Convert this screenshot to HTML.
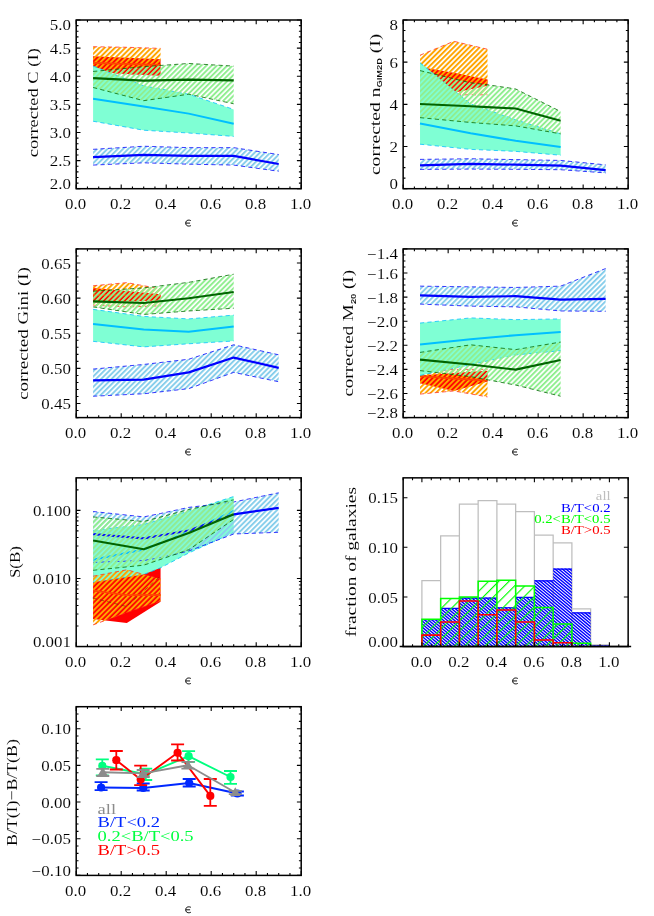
<!DOCTYPE html>
<html><head><meta charset="utf-8"><title>figure</title>
<style>
html,body{margin:0;padding:0;background:#fff;}
body{width:654px;height:916px;overflow:hidden;}
svg{display:block;font-family:"Liberation Serif",serif;will-change:transform;}
text{white-space:pre;}
</style></head>
<body>
<svg width="654" height="916" viewBox="0 0 654 916">
<defs>
<pattern id="hO" width="3.68" height="3.68" patternUnits="userSpaceOnUse" patternTransform="rotate(-45)"><rect x="0" y="0" width="3.68" height="1.95" fill="#ffa500"/></pattern>
<pattern id="hG" width="3.68" height="3.68" patternUnits="userSpaceOnUse" patternTransform="rotate(-45)"><rect x="0" y="0" width="3.68" height="1.95" fill="#90ee90"/></pattern>
<pattern id="hB" width="3.68" height="3.68" patternUnits="userSpaceOnUse" patternTransform="rotate(-45)"><rect x="0" y="0" width="3.68" height="1.95" fill="#87ceeb"/></pattern>
<pattern id="hGs" width="7.2" height="7.2" patternUnits="userSpaceOnUse" patternTransform="rotate(-45)"><rect x="0" y="0" width="7.2" height="1.15" fill="#00ff00"/></pattern>
<clipPath id="cpB"><rect x="421.9" y="619.26" width="18.75" height="27.29"/><rect x="440.65" y="607.95" width="18.75" height="38.6"/><rect x="459.4" y="597.53" width="18.75" height="49.02"/><rect x="478.15" y="597.53" width="18.75" height="49.02"/><rect x="496.9" y="607.25" width="18.75" height="39.3"/><rect x="515.65" y="596.93" width="18.75" height="49.62"/><rect x="534.4" y="580.36" width="18.75" height="66.19"/><rect x="553.15" y="568.55" width="18.75" height="78"/><rect x="571.9" y="612.41" width="18.75" height="34.14"/><rect x="590.65" y="645.56" width="18.75" height="0.99"/></clipPath>
</defs>
<rect x="0" y="0" width="654" height="916" fill="#fff"/>
<polygon points="93.08,56.21 126.83,57.68 160.57,59.36 160.57,75.67 126.83,73.98 93.08,71.73" fill="#ff0000" />
<polygon points="93.08,46.71 126.83,47.27 160.57,48.4 160.57,75.11 126.83,73.98 93.08,72.86" fill="url(#hO)" />
<polyline points="93.08,46.71 126.83,47.27 160.57,48.4" fill="none" stroke="#ff3020" stroke-width="0.77" stroke-linejoin="round" stroke-dasharray="4.2 3.2"/>
<polyline points="93.08,72.86 126.83,73.98 160.57,75.11" fill="none" stroke="#ff3020" stroke-width="0.77" stroke-linejoin="round" stroke-dasharray="4.2 3.2"/>
<polyline points="93.08,63.02 126.83,63.86 160.57,64.99" fill="none" stroke="#ff4500" stroke-width="1.9" stroke-linejoin="round" />
<polygon points="93.08,66.11 143.7,85.79 188.7,94.23 233.7,109.41 233.7,136.4 188.7,133.03 143.7,130.22 93.08,121.22" fill="#7fffd4" />
<polyline points="93.08,66.11 143.7,85.79 188.7,94.23 233.7,109.41" fill="none" stroke="#00bfff" stroke-width="0.77" stroke-linejoin="round" stroke-dasharray="4.2 3.2"/>
<polyline points="93.08,121.22 143.7,130.22 188.7,133.03 233.7,136.4" fill="none" stroke="#00bfff" stroke-width="0.77" stroke-linejoin="round" stroke-dasharray="4.2 3.2"/>
<polyline points="93.08,98.73 143.7,106.6 188.7,113.63 233.7,123.75" fill="none" stroke="#00bfff" stroke-width="2" stroke-linejoin="round" />
<polygon points="93.08,71.45 143.7,66.67 188.7,63.47 233.7,66.11 233.7,103.79 188.7,94.23 143.7,100.69 93.08,87.48" fill="url(#hG)" />
<polyline points="93.08,71.45 143.7,66.67 188.7,63.47 233.7,66.11" fill="none" stroke="#006400" stroke-width="0.77" stroke-linejoin="round" stroke-dasharray="4.2 3.2"/>
<polyline points="93.08,87.48 143.7,100.69 188.7,94.23 233.7,103.79" fill="none" stroke="#006400" stroke-width="0.77" stroke-linejoin="round" stroke-dasharray="4.2 3.2"/>
<polyline points="93.08,78.15 143.7,80.62 188.7,79.61 233.7,80.39" fill="none" stroke="#006400" stroke-width="2.1" stroke-linejoin="round" />
<polygon points="93.08,149.34 143.7,146.24 188.7,147.65 233.7,147.65 278.7,154.57 278.7,171.27 233.7,165.08 188.7,164.18 143.7,162.83 93.08,165.08" fill="url(#hB)" />
<polyline points="93.08,149.34 143.7,146.24 188.7,147.65 233.7,147.65 278.7,154.57" fill="none" stroke="#0000ff" stroke-width="0.77" stroke-linejoin="round" stroke-dasharray="4.2 3.2"/>
<polyline points="93.08,165.08 143.7,162.83 188.7,164.18 233.7,165.08 278.7,171.27" fill="none" stroke="#0000ff" stroke-width="0.77" stroke-linejoin="round" stroke-dasharray="4.2 3.2"/>
<polyline points="93.08,157.21 143.7,154.96 188.7,155.92 233.7,155.92 278.7,163.96" fill="none" stroke="#0000ff" stroke-width="2.2" stroke-linejoin="round" />
<path d="M76.2,188.7 v-4.3 M76.2,20 v4.3 M121.2,188.7 v-4.3 M121.2,20 v4.3 M166.2,188.7 v-4.3 M166.2,20 v4.3 M211.2,188.7 v-4.3 M211.2,20 v4.3 M256.2,188.7 v-4.3 M256.2,20 v4.3 M301.2,188.7 v-4.3 M301.2,20 v4.3 M87.45,188.7 v-2.3 M87.45,20 v2.3 M98.7,188.7 v-2.3 M98.7,20 v2.3 M109.95,188.7 v-2.3 M109.95,20 v2.3 M132.45,188.7 v-2.3 M132.45,20 v2.3 M143.7,188.7 v-2.3 M143.7,20 v2.3 M154.95,188.7 v-2.3 M154.95,20 v2.3 M177.45,188.7 v-2.3 M177.45,20 v2.3 M188.7,188.7 v-2.3 M188.7,20 v2.3 M199.95,188.7 v-2.3 M199.95,20 v2.3 M222.45,188.7 v-2.3 M222.45,20 v2.3 M233.7,188.7 v-2.3 M233.7,20 v2.3 M244.95,188.7 v-2.3 M244.95,20 v2.3 M267.45,188.7 v-2.3 M267.45,20 v2.3 M278.7,188.7 v-2.3 M278.7,20 v2.3 M289.95,188.7 v-2.3 M289.95,20 v2.3 M76.2,188.7 h4.3 M301.2,188.7 h-4.3 M76.2,160.58 h4.3 M301.2,160.58 h-4.3 M76.2,132.47 h4.3 M301.2,132.47 h-4.3 M76.2,104.35 h4.3 M301.2,104.35 h-4.3 M76.2,76.23 h4.3 M301.2,76.23 h-4.3 M76.2,48.12 h4.3 M301.2,48.12 h-4.3 M76.2,20 h4.3 M301.2,20 h-4.3 M76.2,183.08 h2.3 M301.2,183.08 h-2.3 M76.2,177.45 h2.3 M301.2,177.45 h-2.3 M76.2,171.83 h2.3 M301.2,171.83 h-2.3 M76.2,166.21 h2.3 M301.2,166.21 h-2.3 M76.2,154.96 h2.3 M301.2,154.96 h-2.3 M76.2,149.34 h2.3 M301.2,149.34 h-2.3 M76.2,143.71 h2.3 M301.2,143.71 h-2.3 M76.2,138.09 h2.3 M301.2,138.09 h-2.3 M76.2,126.84 h2.3 M301.2,126.84 h-2.3 M76.2,121.22 h2.3 M301.2,121.22 h-2.3 M76.2,115.6 h2.3 M301.2,115.6 h-2.3 M76.2,109.97 h2.3 M301.2,109.97 h-2.3 M76.2,98.73 h2.3 M301.2,98.73 h-2.3 M76.2,93.1 h2.3 M301.2,93.1 h-2.3 M76.2,87.48 h2.3 M301.2,87.48 h-2.3 M76.2,81.86 h2.3 M301.2,81.86 h-2.3 M76.2,70.61 h2.3 M301.2,70.61 h-2.3 M76.2,64.99 h2.3 M301.2,64.99 h-2.3 M76.2,59.36 h2.3 M301.2,59.36 h-2.3 M76.2,53.74 h2.3 M301.2,53.74 h-2.3 M76.2,42.49 h2.3 M301.2,42.49 h-2.3 M76.2,36.87 h2.3 M301.2,36.87 h-2.3 M76.2,31.25 h2.3 M301.2,31.25 h-2.3 M76.2,25.62 h2.3 M301.2,25.62 h-2.3" stroke="#000" stroke-width="1.1" fill="none"/>
<rect x="76.2" y="20" width="225" height="168.7" fill="none" stroke="#000" stroke-width="1.5"/>
<g transform="translate(75.6,208.9)" fill="#000" stroke="#fff" stroke-width="0.07"><text xml:space="preserve" transform="translate(-10.59,0) scale(1.21,1)" font-size="14">0.0</text></g>
<g transform="translate(120.6,208.9)" fill="#000" stroke="#fff" stroke-width="0.07"><text xml:space="preserve" transform="translate(-10.59,0) scale(1.21,1)" font-size="14">0.2</text></g>
<g transform="translate(165.6,208.9)" fill="#000" stroke="#fff" stroke-width="0.07"><text xml:space="preserve" transform="translate(-10.59,0) scale(1.21,1)" font-size="14">0.4</text></g>
<g transform="translate(210.6,208.9)" fill="#000" stroke="#fff" stroke-width="0.07"><text xml:space="preserve" transform="translate(-10.59,0) scale(1.21,1)" font-size="14">0.6</text></g>
<g transform="translate(255.6,208.9)" fill="#000" stroke="#fff" stroke-width="0.07"><text xml:space="preserve" transform="translate(-10.59,0) scale(1.21,1)" font-size="14">0.8</text></g>
<g transform="translate(300.6,208.9)" fill="#000" stroke="#fff" stroke-width="0.07"><text xml:space="preserve" transform="translate(-10.59,0) scale(1.21,1)" font-size="14">1.0</text></g>
<g transform="translate(71,188.9)" fill="#000" stroke="#fff" stroke-width="0.07"><text xml:space="preserve" transform="translate(-21.18,0) scale(1.21,1)" font-size="14">2.0</text></g>
<g transform="translate(71,166.18)" fill="#000" stroke="#fff" stroke-width="0.07"><text xml:space="preserve" transform="translate(-21.18,0) scale(1.21,1)" font-size="14">2.5</text></g>
<g transform="translate(71,138.07)" fill="#000" stroke="#fff" stroke-width="0.07"><text xml:space="preserve" transform="translate(-21.18,0) scale(1.21,1)" font-size="14">3.0</text></g>
<g transform="translate(71,109.95)" fill="#000" stroke="#fff" stroke-width="0.07"><text xml:space="preserve" transform="translate(-21.18,0) scale(1.21,1)" font-size="14">3.5</text></g>
<g transform="translate(71,81.83)" fill="#000" stroke="#fff" stroke-width="0.07"><text xml:space="preserve" transform="translate(-21.18,0) scale(1.21,1)" font-size="14">4.0</text></g>
<g transform="translate(71,53.72)" fill="#000" stroke="#fff" stroke-width="0.07"><text xml:space="preserve" transform="translate(-21.18,0) scale(1.21,1)" font-size="14">4.5</text></g>
<g transform="translate(71,29.8)" fill="#000" stroke="#fff" stroke-width="0.07"><text xml:space="preserve" transform="translate(-21.18,0) scale(1.21,1)" font-size="14">5.0</text></g>
<path d="M191,220.8 C189.9,219.8 185.7,219.5 185.7,223.1 C185.7,226.7 189.9,226.4 191,225.4 M185.9,223.1 L190.1,223.1" fill="none" stroke="#000" stroke-width="0.95" stroke-linecap="butt"/>
<g transform="translate(37.9,102.85) rotate(-90)" fill="#000" stroke="#fff" stroke-width="0.07"><text xml:space="preserve" transform="translate(-54.38,0) scale(1.22,1)" font-size="15.2">corrected C (I)</text></g>
<polygon points="420.02,67.03 453.77,72.72 487.52,79.47 487.52,85.79 453.77,92.75 420.02,90.64" fill="#ff0000" />
<polygon points="420.02,55.22 453.77,41.3 487.52,49.31 487.52,94.86 453.77,94.86 420.02,91.7" fill="url(#hO)" />
<polyline points="420.02,55.22 453.77,41.3 487.52,49.31" fill="none" stroke="#ff3020" stroke-width="0.77" stroke-linejoin="round" stroke-dasharray="4.2 3.2"/>
<polyline points="420.02,91.7 453.77,94.86 487.52,94.86" fill="none" stroke="#ff3020" stroke-width="0.77" stroke-linejoin="round" stroke-dasharray="4.2 3.2"/>
<polygon points="420.02,62.81 470.65,103.93 515.65,119.74 560.65,133.87 560.65,155.23 515.65,151.38 470.65,149.37 420.02,144.21" fill="#7fffd4" />
<polyline points="420.02,62.81 470.65,103.93 515.65,119.74 560.65,133.87" fill="none" stroke="#00bfff" stroke-width="0.77" stroke-linejoin="round" stroke-dasharray="4.2 3.2"/>
<polyline points="420.02,144.21 470.65,149.37 515.65,151.38 560.65,155.23" fill="none" stroke="#00bfff" stroke-width="0.77" stroke-linejoin="round" stroke-dasharray="4.2 3.2"/>
<polyline points="420.02,123.54 470.65,133.24 515.65,140.83 560.65,146.95" fill="none" stroke="#00bfff" stroke-width="2" stroke-linejoin="round" />
<polygon points="420.02,70.61 470.65,82.84 487.52,84.74 515.65,88.96 560.65,111.52 560.65,133.87 515.65,125.86 487.52,123.75 470.65,122.49 420.02,117.64" fill="url(#hG)" />
<polyline points="420.02,70.61 470.65,82.84 487.52,84.74 515.65,88.96 560.65,111.52" fill="none" stroke="#006400" stroke-width="0.77" stroke-linejoin="round" stroke-dasharray="4.2 3.2"/>
<polyline points="420.02,117.64 470.65,122.49 487.52,123.75 515.65,125.86 560.65,133.87" fill="none" stroke="#006400" stroke-width="0.77" stroke-linejoin="round" stroke-dasharray="4.2 3.2"/>
<polyline points="420.02,103.93 470.65,106.25 487.52,107.09 515.65,108.57 560.65,120.8" fill="none" stroke="#006400" stroke-width="2.1" stroke-linejoin="round" />
<polygon points="420.02,159.39 470.65,158.76 515.65,159.6 560.65,160.44 605.65,164.87 605.65,172.88 560.65,169.72 515.65,169.3 470.65,169.09 420.02,169.4" fill="url(#hB)" />
<polyline points="420.02,159.39 470.65,158.76 515.65,159.6 560.65,160.44 605.65,164.87" fill="none" stroke="#0000ff" stroke-width="0.77" stroke-linejoin="round" stroke-dasharray="4.2 3.2"/>
<polyline points="420.02,169.4 470.65,169.09 515.65,169.3 560.65,169.72 605.65,172.88" fill="none" stroke="#0000ff" stroke-width="0.77" stroke-linejoin="round" stroke-dasharray="4.2 3.2"/>
<polyline points="420.02,165.29 470.65,163.82 515.65,164.66 560.65,165.59 605.65,170.08" fill="none" stroke="#0000ff" stroke-width="2.2" stroke-linejoin="round" />
<path d="M403.15,188.7 v-4.3 M403.15,20 v4.3 M448.15,188.7 v-4.3 M448.15,20 v4.3 M493.15,188.7 v-4.3 M493.15,20 v4.3 M538.15,188.7 v-4.3 M538.15,20 v4.3 M583.15,188.7 v-4.3 M583.15,20 v4.3 M628.15,188.7 v-4.3 M628.15,20 v4.3 M414.4,188.7 v-2.3 M414.4,20 v2.3 M425.65,188.7 v-2.3 M425.65,20 v2.3 M436.9,188.7 v-2.3 M436.9,20 v2.3 M459.4,188.7 v-2.3 M459.4,20 v2.3 M470.65,188.7 v-2.3 M470.65,20 v2.3 M481.9,188.7 v-2.3 M481.9,20 v2.3 M504.4,188.7 v-2.3 M504.4,20 v2.3 M515.65,188.7 v-2.3 M515.65,20 v2.3 M526.9,188.7 v-2.3 M526.9,20 v2.3 M549.4,188.7 v-2.3 M549.4,20 v2.3 M560.65,188.7 v-2.3 M560.65,20 v2.3 M571.9,188.7 v-2.3 M571.9,20 v2.3 M594.4,188.7 v-2.3 M594.4,20 v2.3 M605.65,188.7 v-2.3 M605.65,20 v2.3 M616.9,188.7 v-2.3 M616.9,20 v2.3 M403.15,188.7 h4.3 M628.15,188.7 h-4.3 M403.15,146.52 h4.3 M628.15,146.52 h-4.3 M403.15,104.35 h4.3 M628.15,104.35 h-4.3 M403.15,62.17 h4.3 M628.15,62.17 h-4.3 M403.15,20 h4.3 M628.15,20 h-4.3 M403.15,178.16 h2.3 M628.15,178.16 h-2.3 M403.15,167.61 h2.3 M628.15,167.61 h-2.3 M403.15,157.07 h2.3 M628.15,157.07 h-2.3 M403.15,135.98 h2.3 M628.15,135.98 h-2.3 M403.15,125.44 h2.3 M628.15,125.44 h-2.3 M403.15,114.89 h2.3 M628.15,114.89 h-2.3 M403.15,93.81 h2.3 M628.15,93.81 h-2.3 M403.15,83.26 h2.3 M628.15,83.26 h-2.3 M403.15,72.72 h2.3 M628.15,72.72 h-2.3 M403.15,51.63 h2.3 M628.15,51.63 h-2.3 M403.15,41.09 h2.3 M628.15,41.09 h-2.3 M403.15,30.54 h2.3 M628.15,30.54 h-2.3" stroke="#000" stroke-width="1.1" fill="none"/>
<rect x="403.15" y="20" width="225" height="168.7" fill="none" stroke="#000" stroke-width="1.5"/>
<g transform="translate(402.55,208.9)" fill="#000" stroke="#fff" stroke-width="0.07"><text xml:space="preserve" transform="translate(-10.59,0) scale(1.21,1)" font-size="14">0.0</text></g>
<g transform="translate(447.55,208.9)" fill="#000" stroke="#fff" stroke-width="0.07"><text xml:space="preserve" transform="translate(-10.59,0) scale(1.21,1)" font-size="14">0.2</text></g>
<g transform="translate(492.55,208.9)" fill="#000" stroke="#fff" stroke-width="0.07"><text xml:space="preserve" transform="translate(-10.59,0) scale(1.21,1)" font-size="14">0.4</text></g>
<g transform="translate(537.55,208.9)" fill="#000" stroke="#fff" stroke-width="0.07"><text xml:space="preserve" transform="translate(-10.59,0) scale(1.21,1)" font-size="14">0.6</text></g>
<g transform="translate(582.55,208.9)" fill="#000" stroke="#fff" stroke-width="0.07"><text xml:space="preserve" transform="translate(-10.59,0) scale(1.21,1)" font-size="14">0.8</text></g>
<g transform="translate(627.55,208.9)" fill="#000" stroke="#fff" stroke-width="0.07"><text xml:space="preserve" transform="translate(-10.59,0) scale(1.21,1)" font-size="14">1.0</text></g>
<g transform="translate(397.95,188.9)" fill="#000" stroke="#fff" stroke-width="0.07"><text xml:space="preserve" transform="translate(-8.47,0) scale(1.21,1)" font-size="14">0</text></g>
<g transform="translate(397.95,152.12)" fill="#000" stroke="#fff" stroke-width="0.07"><text xml:space="preserve" transform="translate(-8.47,0) scale(1.21,1)" font-size="14">2</text></g>
<g transform="translate(397.95,109.95)" fill="#000" stroke="#fff" stroke-width="0.07"><text xml:space="preserve" transform="translate(-8.47,0) scale(1.21,1)" font-size="14">4</text></g>
<g transform="translate(397.95,67.77)" fill="#000" stroke="#fff" stroke-width="0.07"><text xml:space="preserve" transform="translate(-8.47,0) scale(1.21,1)" font-size="14">6</text></g>
<g transform="translate(397.95,29.8)" fill="#000" stroke="#fff" stroke-width="0.07"><text xml:space="preserve" transform="translate(-8.47,0) scale(1.21,1)" font-size="14">8</text></g>
<path d="M517.95,220.8 C516.85,219.8 512.65,219.5 512.65,223.1 C512.65,226.7 516.85,226.4 517.95,225.4 M512.85,223.1 L517.05,223.1" fill="none" stroke="#000" stroke-width="0.95" stroke-linecap="butt"/>
<g transform="translate(379.7,104.35) rotate(-90)" fill="#000" stroke="#fff" stroke-width="0.07"><text xml:space="preserve" transform="translate(-70.74,0) scale(1.29,1)" font-size="15.2">corrected n</text><text xml:space="preserve" transform="translate(16.86,2.6) scale(1.29,1)" font-size="7.2" font-family="Liberation Sans" font-weight="bold">GIM2D</text><text xml:space="preserve" transform="translate(46.26,0) scale(1.29,1)" font-size="15.2"> (I)</text></g>
<polygon points="93.08,288.12 126.83,291.08 160.57,294.31 160.57,300.42 126.83,301.62 93.08,302.53" fill="#ff0000" />
<polygon points="93.08,285.73 126.83,282.64 160.57,288.83 160.57,305.84 126.83,306.96 93.08,305.13" fill="url(#hO)" />
<polyline points="93.08,285.73 126.83,282.64 160.57,288.83" fill="none" stroke="#ff3020" stroke-width="0.77" stroke-linejoin="round" stroke-dasharray="4.2 3.2"/>
<polyline points="93.08,305.13 126.83,306.96 160.57,305.84" fill="none" stroke="#ff3020" stroke-width="0.77" stroke-linejoin="round" stroke-dasharray="4.2 3.2"/>
<polyline points="93.08,294.94 126.83,295.29 160.57,295.64" fill="none" stroke="#ff4500" stroke-width="1.9" stroke-linejoin="round" />
<polygon points="93.08,309.35 143.7,316.38 188.7,318.91 233.7,315.11 233.7,340.98 188.7,343.79 143.7,346.89 93.08,341.33" fill="#7fffd4" />
<polyline points="93.08,309.35 143.7,316.38 188.7,318.91 233.7,315.11" fill="none" stroke="#00bfff" stroke-width="0.77" stroke-linejoin="round" stroke-dasharray="4.2 3.2"/>
<polyline points="93.08,341.33 143.7,346.89 188.7,343.79 233.7,340.98" fill="none" stroke="#00bfff" stroke-width="0.77" stroke-linejoin="round" stroke-dasharray="4.2 3.2"/>
<polyline points="93.08,324.11 143.7,329.59 188.7,331.7 233.7,326.5" fill="none" stroke="#00bfff" stroke-width="2" stroke-linejoin="round" />
<polygon points="93.08,291.22 143.7,287.91 188.7,282.36 233.7,274.21 233.7,308.23 188.7,310.97 143.7,314.48 93.08,306.89" fill="url(#hG)" />
<polyline points="93.08,291.22 143.7,287.91 188.7,282.36 233.7,274.21" fill="none" stroke="#006400" stroke-width="0.77" stroke-linejoin="round" stroke-dasharray="4.2 3.2"/>
<polyline points="93.08,306.89 143.7,314.48 188.7,310.97 233.7,308.23" fill="none" stroke="#006400" stroke-width="0.77" stroke-linejoin="round" stroke-dasharray="4.2 3.2"/>
<polyline points="93.08,301.34 143.7,303.02 188.7,298.24 233.7,291.99" fill="none" stroke="#006400" stroke-width="2.1" stroke-linejoin="round" />
<polygon points="93.08,369.1 143.7,364.46 188.7,359.26 233.7,344.78 278.7,354.83 278.7,381.75 233.7,372.4 188.7,388.64 143.7,393.77 93.08,396.23" fill="url(#hB)" />
<polyline points="93.08,369.1 143.7,364.46 188.7,359.26 233.7,344.78 278.7,354.83" fill="none" stroke="#0000ff" stroke-width="0.77" stroke-linejoin="round" stroke-dasharray="4.2 3.2"/>
<polyline points="93.08,396.23 143.7,393.77 188.7,388.64 233.7,372.4 278.7,381.75" fill="none" stroke="#0000ff" stroke-width="0.77" stroke-linejoin="round" stroke-dasharray="4.2 3.2"/>
<polyline points="93.08,380.35 143.7,379.64 188.7,372.4 233.7,357.57 278.7,367.9" fill="none" stroke="#0000ff" stroke-width="2.2" stroke-linejoin="round" />
<path d="M76.2,417.6 v-4.3 M76.2,248.9 v4.3 M121.2,417.6 v-4.3 M121.2,248.9 v4.3 M166.2,417.6 v-4.3 M166.2,248.9 v4.3 M211.2,417.6 v-4.3 M211.2,248.9 v4.3 M256.2,417.6 v-4.3 M256.2,248.9 v4.3 M301.2,417.6 v-4.3 M301.2,248.9 v4.3 M87.45,417.6 v-2.3 M87.45,248.9 v2.3 M98.7,417.6 v-2.3 M98.7,248.9 v2.3 M109.95,417.6 v-2.3 M109.95,248.9 v2.3 M132.45,417.6 v-2.3 M132.45,248.9 v2.3 M143.7,417.6 v-2.3 M143.7,248.9 v2.3 M154.95,417.6 v-2.3 M154.95,248.9 v2.3 M177.45,417.6 v-2.3 M177.45,248.9 v2.3 M188.7,417.6 v-2.3 M188.7,248.9 v2.3 M199.95,417.6 v-2.3 M199.95,248.9 v2.3 M222.45,417.6 v-2.3 M222.45,248.9 v2.3 M233.7,417.6 v-2.3 M233.7,248.9 v2.3 M244.95,417.6 v-2.3 M244.95,248.9 v2.3 M267.45,417.6 v-2.3 M267.45,248.9 v2.3 M278.7,417.6 v-2.3 M278.7,248.9 v2.3 M289.95,417.6 v-2.3 M289.95,248.9 v2.3 M76.2,403.54 h4.3 M301.2,403.54 h-4.3 M76.2,368.4 h4.3 M301.2,368.4 h-4.3 M76.2,333.25 h4.3 M301.2,333.25 h-4.3 M76.2,298.1 h4.3 M301.2,298.1 h-4.3 M76.2,262.96 h4.3 M301.2,262.96 h-4.3 M76.2,417.6 h2.3 M301.2,417.6 h-2.3 M76.2,410.57 h2.3 M301.2,410.57 h-2.3 M76.2,396.51 h2.3 M301.2,396.51 h-2.3 M76.2,389.48 h2.3 M301.2,389.48 h-2.3 M76.2,382.45 h2.3 M301.2,382.45 h-2.3 M76.2,375.43 h2.3 M301.2,375.43 h-2.3 M76.2,361.37 h2.3 M301.2,361.37 h-2.3 M76.2,354.34 h2.3 M301.2,354.34 h-2.3 M76.2,347.31 h2.3 M301.2,347.31 h-2.3 M76.2,340.28 h2.3 M301.2,340.28 h-2.3 M76.2,326.22 h2.3 M301.2,326.22 h-2.3 M76.2,319.19 h2.3 M301.2,319.19 h-2.3 M76.2,312.16 h2.3 M301.2,312.16 h-2.3 M76.2,305.13 h2.3 M301.2,305.13 h-2.3 M76.2,291.08 h2.3 M301.2,291.08 h-2.3 M76.2,284.05 h2.3 M301.2,284.05 h-2.3 M76.2,277.02 h2.3 M301.2,277.02 h-2.3 M76.2,269.99 h2.3 M301.2,269.99 h-2.3 M76.2,255.93 h2.3 M301.2,255.93 h-2.3 M76.2,248.9 h2.3 M301.2,248.9 h-2.3" stroke="#000" stroke-width="1.1" fill="none"/>
<rect x="76.2" y="248.9" width="225" height="168.7" fill="none" stroke="#000" stroke-width="1.5"/>
<g transform="translate(75.6,437.8)" fill="#000" stroke="#fff" stroke-width="0.07"><text xml:space="preserve" transform="translate(-10.59,0) scale(1.21,1)" font-size="14">0.0</text></g>
<g transform="translate(120.6,437.8)" fill="#000" stroke="#fff" stroke-width="0.07"><text xml:space="preserve" transform="translate(-10.59,0) scale(1.21,1)" font-size="14">0.2</text></g>
<g transform="translate(165.6,437.8)" fill="#000" stroke="#fff" stroke-width="0.07"><text xml:space="preserve" transform="translate(-10.59,0) scale(1.21,1)" font-size="14">0.4</text></g>
<g transform="translate(210.6,437.8)" fill="#000" stroke="#fff" stroke-width="0.07"><text xml:space="preserve" transform="translate(-10.59,0) scale(1.21,1)" font-size="14">0.6</text></g>
<g transform="translate(255.6,437.8)" fill="#000" stroke="#fff" stroke-width="0.07"><text xml:space="preserve" transform="translate(-10.59,0) scale(1.21,1)" font-size="14">0.8</text></g>
<g transform="translate(300.6,437.8)" fill="#000" stroke="#fff" stroke-width="0.07"><text xml:space="preserve" transform="translate(-10.59,0) scale(1.21,1)" font-size="14">1.0</text></g>
<g transform="translate(71,409.14)" fill="#000" stroke="#fff" stroke-width="0.07"><text xml:space="preserve" transform="translate(-29.64,0) scale(1.21,1)" font-size="14">0.45</text></g>
<g transform="translate(71,374)" fill="#000" stroke="#fff" stroke-width="0.07"><text xml:space="preserve" transform="translate(-29.64,0) scale(1.21,1)" font-size="14">0.50</text></g>
<g transform="translate(71,338.85)" fill="#000" stroke="#fff" stroke-width="0.07"><text xml:space="preserve" transform="translate(-29.64,0) scale(1.21,1)" font-size="14">0.55</text></g>
<g transform="translate(71,303.7)" fill="#000" stroke="#fff" stroke-width="0.07"><text xml:space="preserve" transform="translate(-29.64,0) scale(1.21,1)" font-size="14">0.60</text></g>
<g transform="translate(71,268.56)" fill="#000" stroke="#fff" stroke-width="0.07"><text xml:space="preserve" transform="translate(-29.64,0) scale(1.21,1)" font-size="14">0.65</text></g>
<path d="M191,449.7 C189.9,448.7 185.7,448.4 185.7,452 C185.7,455.6 189.9,455.3 191,454.3 M185.9,452 L190.1,452" fill="none" stroke="#000" stroke-width="0.95" stroke-linecap="butt"/>
<g transform="translate(28.2,333.25) rotate(-90)" fill="#000" stroke="#fff" stroke-width="0.07"><text xml:space="preserve" transform="translate(-66.6,0) scale(1.25,1)" font-size="15.2">corrected Gini (I)</text></g>
<polygon points="420.02,375.55 453.77,373.02 487.52,370.73 487.52,381.45 453.77,390.97 420.02,383.14" fill="#ff0000" />
<polygon points="420.02,371.81 453.77,369.4 487.52,369.4 487.52,396.87 453.77,390.97 420.02,394.1" fill="url(#hO)" />
<polyline points="420.02,371.81 453.77,369.4 487.52,369.4" fill="none" stroke="#ff3020" stroke-width="0.77" stroke-linejoin="round" stroke-dasharray="4.2 3.2"/>
<polyline points="420.02,394.1 453.77,390.97 487.52,396.87" fill="none" stroke="#ff3020" stroke-width="0.77" stroke-linejoin="round" stroke-dasharray="4.2 3.2"/>
<polyline points="420.02,376.15 453.77,378.44 487.52,380.61" fill="none" stroke="#ff4500" stroke-width="1.9" stroke-linejoin="round" />
<polygon points="420.02,323.07 470.65,317.9 515.65,319.63 560.65,318.91 560.65,350.72 515.65,354.94 470.65,364.58 420.02,375.43" fill="#7fffd4" />
<polyline points="420.02,323.07 470.65,317.9 515.65,319.63 560.65,318.91" fill="none" stroke="#00bfff" stroke-width="0.77" stroke-linejoin="round" stroke-dasharray="4.2 3.2"/>
<polyline points="420.02,375.43 470.65,364.58 515.65,354.94 560.65,350.72" fill="none" stroke="#00bfff" stroke-width="0.77" stroke-linejoin="round" stroke-dasharray="4.2 3.2"/>
<polyline points="420.02,344.46 470.65,339.28 515.65,335.18 560.65,332.05" fill="none" stroke="#00bfff" stroke-width="2" stroke-linejoin="round" />
<polygon points="420.02,352.41 470.65,344.82 515.65,349.64 560.65,342.05 560.65,396.21 515.65,385.06 470.65,376.63 420.02,370.61" fill="url(#hG)" />
<polyline points="420.02,352.41 470.65,344.82 515.65,349.64 560.65,342.05" fill="none" stroke="#006400" stroke-width="0.77" stroke-linejoin="round" stroke-dasharray="4.2 3.2"/>
<polyline points="420.02,370.61 470.65,376.63 515.65,385.06 560.65,396.21" fill="none" stroke="#006400" stroke-width="0.77" stroke-linejoin="round" stroke-dasharray="4.2 3.2"/>
<polyline points="420.02,359.64 470.65,364.46 515.65,369.64 560.65,360" fill="none" stroke="#006400" stroke-width="2.1" stroke-linejoin="round" />
<polygon points="420.02,286.13 470.65,286.86 515.65,287.46 560.65,286.13 605.65,268.54 605.65,311.32 560.65,310.96 515.65,306.86 470.65,306.14 420.02,304.09" fill="url(#hB)" />
<polyline points="420.02,286.13 470.65,286.86 515.65,287.46 560.65,286.13 605.65,268.54" fill="none" stroke="#0000ff" stroke-width="0.77" stroke-linejoin="round" stroke-dasharray="4.2 3.2"/>
<polyline points="420.02,304.09 470.65,306.14 515.65,306.86 560.65,310.96 605.65,311.32" fill="none" stroke="#0000ff" stroke-width="0.77" stroke-linejoin="round" stroke-dasharray="4.2 3.2"/>
<polyline points="420.02,295.47 470.65,296.86 515.65,296.14 560.65,299.63 605.65,298.91" fill="none" stroke="#0000ff" stroke-width="2.2" stroke-linejoin="round" />
<path d="M403.15,417.6 v-4.3 M403.15,248.9 v4.3 M448.15,417.6 v-4.3 M448.15,248.9 v4.3 M493.15,417.6 v-4.3 M493.15,248.9 v4.3 M538.15,417.6 v-4.3 M538.15,248.9 v4.3 M583.15,417.6 v-4.3 M583.15,248.9 v4.3 M628.15,417.6 v-4.3 M628.15,248.9 v4.3 M414.4,417.6 v-2.3 M414.4,248.9 v2.3 M425.65,417.6 v-2.3 M425.65,248.9 v2.3 M436.9,417.6 v-2.3 M436.9,248.9 v2.3 M459.4,417.6 v-2.3 M459.4,248.9 v2.3 M470.65,417.6 v-2.3 M470.65,248.9 v2.3 M481.9,417.6 v-2.3 M481.9,248.9 v2.3 M504.4,417.6 v-2.3 M504.4,248.9 v2.3 M515.65,417.6 v-2.3 M515.65,248.9 v2.3 M526.9,417.6 v-2.3 M526.9,248.9 v2.3 M549.4,417.6 v-2.3 M549.4,248.9 v2.3 M560.65,417.6 v-2.3 M560.65,248.9 v2.3 M571.9,417.6 v-2.3 M571.9,248.9 v2.3 M594.4,417.6 v-2.3 M594.4,248.9 v2.3 M605.65,417.6 v-2.3 M605.65,248.9 v2.3 M616.9,417.6 v-2.3 M616.9,248.9 v2.3 M403.15,417.6 h4.3 M628.15,417.6 h-4.3 M403.15,393.5 h4.3 M628.15,393.5 h-4.3 M403.15,369.4 h4.3 M628.15,369.4 h-4.3 M403.15,345.3 h4.3 M628.15,345.3 h-4.3 M403.15,321.2 h4.3 M628.15,321.2 h-4.3 M403.15,297.1 h4.3 M628.15,297.1 h-4.3 M403.15,273 h4.3 M628.15,273 h-4.3 M403.15,248.9 h4.3 M628.15,248.9 h-4.3 M403.15,411.58 h2.3 M628.15,411.58 h-2.3 M403.15,405.55 h2.3 M628.15,405.55 h-2.3 M403.15,399.53 h2.3 M628.15,399.53 h-2.3 M403.15,387.48 h2.3 M628.15,387.48 h-2.3 M403.15,381.45 h2.3 M628.15,381.45 h-2.3 M403.15,375.43 h2.3 M628.15,375.43 h-2.3 M403.15,363.38 h2.3 M628.15,363.38 h-2.3 M403.15,357.35 h2.3 M628.15,357.35 h-2.3 M403.15,351.33 h2.3 M628.15,351.33 h-2.3 M403.15,339.28 h2.3 M628.15,339.28 h-2.3 M403.15,333.25 h2.3 M628.15,333.25 h-2.3 M403.15,327.23 h2.3 M628.15,327.23 h-2.3 M403.15,315.18 h2.3 M628.15,315.18 h-2.3 M403.15,309.15 h2.3 M628.15,309.15 h-2.3 M403.15,303.12 h2.3 M628.15,303.12 h-2.3 M403.15,291.08 h2.3 M628.15,291.08 h-2.3 M403.15,285.05 h2.3 M628.15,285.05 h-2.3 M403.15,279.02 h2.3 M628.15,279.02 h-2.3 M403.15,266.98 h2.3 M628.15,266.98 h-2.3 M403.15,260.95 h2.3 M628.15,260.95 h-2.3 M403.15,254.93 h2.3 M628.15,254.93 h-2.3" stroke="#000" stroke-width="1.1" fill="none"/>
<rect x="403.15" y="248.9" width="225" height="168.7" fill="none" stroke="#000" stroke-width="1.5"/>
<g transform="translate(402.55,437.8)" fill="#000" stroke="#fff" stroke-width="0.07"><text xml:space="preserve" transform="translate(-10.59,0) scale(1.21,1)" font-size="14">0.0</text></g>
<g transform="translate(447.55,437.8)" fill="#000" stroke="#fff" stroke-width="0.07"><text xml:space="preserve" transform="translate(-10.59,0) scale(1.21,1)" font-size="14">0.2</text></g>
<g transform="translate(492.55,437.8)" fill="#000" stroke="#fff" stroke-width="0.07"><text xml:space="preserve" transform="translate(-10.59,0) scale(1.21,1)" font-size="14">0.4</text></g>
<g transform="translate(537.55,437.8)" fill="#000" stroke="#fff" stroke-width="0.07"><text xml:space="preserve" transform="translate(-10.59,0) scale(1.21,1)" font-size="14">0.6</text></g>
<g transform="translate(582.55,437.8)" fill="#000" stroke="#fff" stroke-width="0.07"><text xml:space="preserve" transform="translate(-10.59,0) scale(1.21,1)" font-size="14">0.8</text></g>
<g transform="translate(627.55,437.8)" fill="#000" stroke="#fff" stroke-width="0.07"><text xml:space="preserve" transform="translate(-10.59,0) scale(1.21,1)" font-size="14">1.0</text></g>
<g transform="translate(397.95,417.8)" fill="#000" stroke="#fff" stroke-width="0.07"><text xml:space="preserve" transform="translate(-30.73,0) scale(1.21,1)" font-size="14">−2.8</text></g>
<g transform="translate(397.95,399.1)" fill="#000" stroke="#fff" stroke-width="0.07"><text xml:space="preserve" transform="translate(-30.73,0) scale(1.21,1)" font-size="14">−2.6</text></g>
<g transform="translate(397.95,375)" fill="#000" stroke="#fff" stroke-width="0.07"><text xml:space="preserve" transform="translate(-30.73,0) scale(1.21,1)" font-size="14">−2.4</text></g>
<g transform="translate(397.95,350.9)" fill="#000" stroke="#fff" stroke-width="0.07"><text xml:space="preserve" transform="translate(-30.73,0) scale(1.21,1)" font-size="14">−2.2</text></g>
<g transform="translate(397.95,326.8)" fill="#000" stroke="#fff" stroke-width="0.07"><text xml:space="preserve" transform="translate(-30.73,0) scale(1.21,1)" font-size="14">−2.0</text></g>
<g transform="translate(397.95,302.7)" fill="#000" stroke="#fff" stroke-width="0.07"><text xml:space="preserve" transform="translate(-30.73,0) scale(1.21,1)" font-size="14">−1.8</text></g>
<g transform="translate(397.95,278.6)" fill="#000" stroke="#fff" stroke-width="0.07"><text xml:space="preserve" transform="translate(-30.73,0) scale(1.21,1)" font-size="14">−1.6</text></g>
<g transform="translate(397.95,258.7)" fill="#000" stroke="#fff" stroke-width="0.07"><text xml:space="preserve" transform="translate(-30.73,0) scale(1.21,1)" font-size="14">−1.4</text></g>
<path d="M517.95,449.7 C516.85,448.7 512.65,448.4 512.65,452 C512.65,455.6 516.85,455.3 517.95,454.3 M512.85,452 L517.05,452" fill="none" stroke="#000" stroke-width="0.95" stroke-linecap="butt"/>
<g transform="translate(353.1,333.25) rotate(-90)" fill="#000" stroke="#fff" stroke-width="0.07"><text xml:space="preserve" transform="translate(-63.3,0) scale(1.25,1)" font-size="15.2">corrected M</text><text xml:space="preserve" transform="translate(29.21,2.8) scale(1.25,1)" font-size="7.4" font-family="Liberation Sans" font-weight="bold">20</text><text xml:space="preserve" transform="translate(39.52,0) scale(1.25,1)" font-size="15.2"> (I)</text></g>
<polygon points="93.08,572 126.83,568 160.57,565 160.57,601.7 126.83,623 93.08,619" fill="#ff0000" />
<polygon points="93.08,530.4 143.7,524.5 160.57,519.5 188.7,511 233.7,496.5 233.7,532.5 188.7,553 160.57,567.8 143.7,574.5 93.08,582.3" fill="#7fffd4" />
<polyline points="93.08,582.3 143.7,574.5 160.57,567.8 188.7,553 233.7,532.5" fill="none" stroke="#00bfff" stroke-width="0.77" stroke-linejoin="round" stroke-dasharray="4.2 3.2"/>
<polyline points="93.08,530.4 143.7,524.5 160.57,519.5 188.7,511 233.7,496.5" fill="none" stroke="#00bfff" stroke-width="0.77" stroke-linejoin="round" stroke-dasharray="4.2 3.2"/>
<polyline points="93.08,559.8 143.7,549.5 188.7,532 233.7,511" fill="none" stroke="#00bfff" stroke-width="2" stroke-linejoin="round" />
<polygon points="93.08,576.2 126.83,569.8 160.57,579 160.57,601 126.83,612.5 93.08,624.9" fill="url(#hO)" />
<polyline points="93.08,576.2 126.83,569.8 160.57,579" fill="none" stroke="#ff3020" stroke-width="0.77" stroke-linejoin="round" stroke-dasharray="4.2 3.2"/>
<polyline points="93.08,624.9 126.83,612.5 160.57,601" fill="none" stroke="#ff3020" stroke-width="0.77" stroke-linejoin="round" stroke-dasharray="4.2 3.2"/>
<polyline points="92.7,598 126.4,606.4 160.3,576.2" fill="none" stroke="#7a1e00" stroke-width="0.59" stroke-linejoin="round" stroke-dasharray="4.2 3.2"/>
<polyline points="93.08,590.6 126.83,595.2 160.57,595" fill="none" stroke="#ff4500" stroke-width="1.8" stroke-linejoin="round" />
<polygon points="93.08,511.5 143.7,516.9 160.57,513.5 188.7,507.4 233.7,502 278.7,492.8 278.7,532.3 233.7,534 188.7,551 160.57,557.7 143.7,560.5 93.08,562.4" fill="url(#hB)" />
<polyline points="93.08,511.5 143.7,516.9 160.57,513.5 188.7,507.4 233.7,502 278.7,492.8" fill="none" stroke="#0000ff" stroke-width="0.77" stroke-linejoin="round" stroke-dasharray="4.2 3.2"/>
<polyline points="93.08,562.4 143.7,560.5 160.57,557.7 188.7,551 233.7,534 278.7,532.3" fill="none" stroke="#0000ff" stroke-width="0.77" stroke-linejoin="round" stroke-dasharray="4.2 3.2"/>
<polyline points="93.08,534.1 143.7,538.4 188.7,530.5 233.7,514.3 278.7,507.9" fill="none" stroke="#0000ff" stroke-width="2.2" stroke-linejoin="round" />
<polygon points="93.08,516.9 143.7,521.5 188.7,509.5 233.7,499.8 233.7,519.4 188.7,549.7 143.7,565.2 93.08,570.3" fill="url(#hG)" />
<polyline points="93.08,516.9 143.7,521.5 188.7,509.5 233.7,499.8" fill="none" stroke="#006400" stroke-width="0.77" stroke-linejoin="round" stroke-dasharray="4.2 3.2"/>
<polyline points="93.08,570.3 143.7,565.2 188.7,549.7 233.7,519.4" fill="none" stroke="#006400" stroke-width="0.77" stroke-linejoin="round" stroke-dasharray="4.2 3.2"/>
<polyline points="93.08,540.5 143.7,549.2 188.7,533 233.7,514.3" fill="none" stroke="#006400" stroke-width="2.1" stroke-linejoin="round" />
<path d="M76.2,646.55 v-4.3 M76.2,477.85 v4.3 M121.2,646.55 v-4.3 M121.2,477.85 v4.3 M166.2,646.55 v-4.3 M166.2,477.85 v4.3 M211.2,646.55 v-4.3 M211.2,477.85 v4.3 M256.2,646.55 v-4.3 M256.2,477.85 v4.3 M301.2,646.55 v-4.3 M301.2,477.85 v4.3 M87.45,646.55 v-2.3 M87.45,477.85 v2.3 M98.7,646.55 v-2.3 M98.7,477.85 v2.3 M109.95,646.55 v-2.3 M109.95,477.85 v2.3 M132.45,646.55 v-2.3 M132.45,477.85 v2.3 M143.7,646.55 v-2.3 M143.7,477.85 v2.3 M154.95,646.55 v-2.3 M154.95,477.85 v2.3 M177.45,646.55 v-2.3 M177.45,477.85 v2.3 M188.7,646.55 v-2.3 M188.7,477.85 v2.3 M199.95,646.55 v-2.3 M199.95,477.85 v2.3 M222.45,646.55 v-2.3 M222.45,477.85 v2.3 M233.7,646.55 v-2.3 M233.7,477.85 v2.3 M244.95,646.55 v-2.3 M244.95,477.85 v2.3 M267.45,646.55 v-2.3 M267.45,477.85 v2.3 M278.7,646.55 v-2.3 M278.7,477.85 v2.3 M289.95,646.55 v-2.3 M289.95,477.85 v2.3 M76.2,646.55 h4.3 M301.2,646.55 h-4.3 M76.2,578.45 h4.3 M301.2,578.45 h-4.3 M76.2,510.34 h4.3 M301.2,510.34 h-4.3 M76.2,626.05 h2.3 M301.2,626.05 h-2.3 M76.2,614.06 h2.3 M301.2,614.06 h-2.3 M76.2,605.55 h2.3 M301.2,605.55 h-2.3 M76.2,598.95 h2.3 M301.2,598.95 h-2.3 M76.2,593.56 h2.3 M301.2,593.56 h-2.3 M76.2,589 h2.3 M301.2,589 h-2.3 M76.2,585.05 h2.3 M301.2,585.05 h-2.3 M76.2,581.56 h2.3 M301.2,581.56 h-2.3 M76.2,557.95 h2.3 M301.2,557.95 h-2.3 M76.2,545.95 h2.3 M301.2,545.95 h-2.3 M76.2,537.44 h2.3 M301.2,537.44 h-2.3 M76.2,530.84 h2.3 M301.2,530.84 h-2.3 M76.2,525.45 h2.3 M301.2,525.45 h-2.3 M76.2,520.89 h2.3 M301.2,520.89 h-2.3 M76.2,516.94 h2.3 M301.2,516.94 h-2.3 M76.2,513.46 h2.3 M301.2,513.46 h-2.3 M76.2,489.84 h2.3 M301.2,489.84 h-2.3" stroke="#000" stroke-width="1.1" fill="none"/>
<rect x="76.2" y="477.85" width="225" height="168.7" fill="none" stroke="#000" stroke-width="1.5"/>
<g transform="translate(75.6,666.75)" fill="#000" stroke="#fff" stroke-width="0.07"><text xml:space="preserve" transform="translate(-10.59,0) scale(1.21,1)" font-size="14">0.0</text></g>
<g transform="translate(120.6,666.75)" fill="#000" stroke="#fff" stroke-width="0.07"><text xml:space="preserve" transform="translate(-10.59,0) scale(1.21,1)" font-size="14">0.2</text></g>
<g transform="translate(165.6,666.75)" fill="#000" stroke="#fff" stroke-width="0.07"><text xml:space="preserve" transform="translate(-10.59,0) scale(1.21,1)" font-size="14">0.4</text></g>
<g transform="translate(210.6,666.75)" fill="#000" stroke="#fff" stroke-width="0.07"><text xml:space="preserve" transform="translate(-10.59,0) scale(1.21,1)" font-size="14">0.6</text></g>
<g transform="translate(255.6,666.75)" fill="#000" stroke="#fff" stroke-width="0.07"><text xml:space="preserve" transform="translate(-10.59,0) scale(1.21,1)" font-size="14">0.8</text></g>
<g transform="translate(300.6,666.75)" fill="#000" stroke="#fff" stroke-width="0.07"><text xml:space="preserve" transform="translate(-10.59,0) scale(1.21,1)" font-size="14">1.0</text></g>
<g transform="translate(71,646.75)" fill="#000" stroke="#fff" stroke-width="0.07"><text xml:space="preserve" transform="translate(-38.12,0) scale(1.21,1)" font-size="14">0.001</text></g>
<g transform="translate(71,584.05)" fill="#000" stroke="#fff" stroke-width="0.07"><text xml:space="preserve" transform="translate(-38.12,0) scale(1.21,1)" font-size="14">0.010</text></g>
<g transform="translate(71,515.94)" fill="#000" stroke="#fff" stroke-width="0.07"><text xml:space="preserve" transform="translate(-38.12,0) scale(1.21,1)" font-size="14">0.100</text></g>
<path d="M191,678.65 C189.9,677.65 185.7,677.35 185.7,680.95 C185.7,684.55 189.9,684.25 191,683.25 M185.9,680.95 L190.1,680.95" fill="none" stroke="#000" stroke-width="0.95" stroke-linecap="butt"/>
<g transform="translate(20,562.2) rotate(-90)" fill="#000" stroke="#fff" stroke-width="0.07"><text xml:space="preserve" transform="translate(-15.87,0) scale(1.11,1)" font-size="15.2">S(B)</text></g>
<path d="M421.9,646.55 V580.66 H440.65 V646.55 M440.65,646.55 V535.8 H459.4 V646.55 M459.4,646.55 V504.05 H478.15 V646.55 M478.15,646.55 V500.67 H496.9 V646.55 M496.9,646.55 V504.05 H515.65 V646.55 M515.65,646.55 V511.59 H534.4 V646.55 M534.4,646.55 V535.11 H553.15 V646.55 M553.15,646.55 V542.75 H571.9 V646.55 M571.9,646.55 V608.94 H590.65 V646.55 M590.65,646.55 V644.86 H609.4 V646.55" fill="none" stroke="#bebebe" stroke-width="1.25" stroke-linejoin="miter"/>
<path d="M421.9,401.32 L609.4,559.2 M421.9,404.41 L609.4,562.29 M421.9,407.5 L609.4,565.38 M421.9,410.59 L609.4,568.47 M421.9,413.68 L609.4,571.56 M421.9,416.77 L609.4,574.65 M421.9,419.86 L609.4,577.74 M421.9,422.95 L609.4,580.83 M421.9,426.04 L609.4,583.92 M421.9,429.13 L609.4,587.01 M421.9,432.22 L609.4,590.1 M421.9,435.31 L609.4,593.19 M421.9,438.4 L609.4,596.28 M421.9,441.49 L609.4,599.37 M421.9,444.58 L609.4,602.46 M421.9,447.67 L609.4,605.55 M421.9,450.76 L609.4,608.64 M421.9,453.85 L609.4,611.73 M421.9,456.94 L609.4,614.82 M421.9,460.03 L609.4,617.91 M421.9,463.12 L609.4,621 M421.9,466.21 L609.4,624.09 M421.9,469.3 L609.4,627.18 M421.9,472.39 L609.4,630.27 M421.9,475.48 L609.4,633.36 M421.9,478.57 L609.4,636.45 M421.9,481.66 L609.4,639.54 M421.9,484.75 L609.4,642.63 M421.9,487.84 L609.4,645.72 M421.9,490.93 L609.4,648.81 M421.9,494.02 L609.4,651.9 M421.9,497.11 L609.4,654.99 M421.9,500.2 L609.4,658.08 M421.9,503.29 L609.4,661.17 M421.9,506.38 L609.4,664.26 M421.9,509.47 L609.4,667.35 M421.9,512.56 L609.4,670.44 M421.9,515.65 L609.4,673.53 M421.9,518.74 L609.4,676.62 M421.9,521.83 L609.4,679.71 M421.9,524.92 L609.4,682.8 M421.9,528.01 L609.4,685.89 M421.9,531.1 L609.4,688.98 M421.9,534.19 L609.4,692.07 M421.9,537.28 L609.4,695.16 M421.9,540.37 L609.4,698.25 M421.9,543.46 L609.4,701.34 M421.9,546.55 L609.4,704.43 M421.9,549.64 L609.4,707.52 M421.9,552.73 L609.4,710.61 M421.9,555.82 L609.4,713.7 M421.9,558.91 L609.4,716.79 M421.9,562 L609.4,719.88 M421.9,565.09 L609.4,722.97 M421.9,568.18 L609.4,726.06 M421.9,571.27 L609.4,729.15 M421.9,574.36 L609.4,732.24 M421.9,577.45 L609.4,735.33 M421.9,580.54 L609.4,738.42 M421.9,583.63 L609.4,741.51 M421.9,586.72 L609.4,744.6 M421.9,589.81 L609.4,747.69 M421.9,592.9 L609.4,750.78 M421.9,595.99 L609.4,753.87 M421.9,599.08 L609.4,756.96 M421.9,602.17 L609.4,760.05 M421.9,605.26 L609.4,763.14 M421.9,608.36 L609.4,766.23 M421.9,611.45 L609.4,769.32 M421.9,614.54 L609.4,772.41 M421.9,617.63 L609.4,775.5 M421.9,620.72 L609.4,778.59 M421.9,623.81 L609.4,781.68 M421.9,626.9 L609.4,784.77 M421.9,629.99 L609.4,787.86 M421.9,633.08 L609.4,790.95 M421.9,636.17 L609.4,794.04 M421.9,639.26 L609.4,797.13 M421.9,642.35 L609.4,800.22 M421.9,645.44 L609.4,803.31 M421.9,648.53 L609.4,806.4" stroke="#0000ff" stroke-width="1.42" fill="none" clip-path="url(#cpB)"/>
<path d="M421.9,619.76 H440.65 M440.65,608.45 H459.4 M459.4,598.03 H478.15 M478.15,598.03 H496.9 M496.9,607.75 H515.65 M515.65,597.43 H534.4 M534.4,580.86 H553.15 M553.15,569.05 H571.9 M571.9,612.91 H590.65 M590.65,646.06 H609.4" stroke="#0000ff" stroke-width="1.2" fill="none"/>
<path d="M421.9,646.55 V619.26 H440.65 V646.55 M440.65,646.55 V598.62 H459.4 V646.55 M459.4,646.55 V596.93 H478.15 V646.55 M478.15,646.55 V581.25 H496.9 V646.55 M496.9,646.55 V580.16 H515.65 V646.55 M515.65,646.55 V586.12 H534.4 V646.55 M534.4,646.55 V607.55 H553.15 V646.55 M553.15,646.55 V624.12 H571.9 V646.55 M571.9,646.55 V643.37 H590.65 V646.55" fill="url(#hGs)" stroke="none" stroke-width="0" stroke-linejoin="miter"/>
<path d="M421.9,646.55 V619.26 H440.65 V646.55 M440.65,646.55 V598.62 H459.4 V646.55 M459.4,646.55 V596.93 H478.15 V646.55 M478.15,646.55 V581.25 H496.9 V646.55 M496.9,646.55 V580.16 H515.65 V646.55 M515.65,646.55 V586.12 H534.4 V646.55 M534.4,646.55 V607.55 H553.15 V646.55 M553.15,646.55 V624.12 H571.9 V646.55 M571.9,646.55 V643.37 H590.65 V646.55" fill="none" stroke="#00ff00" stroke-width="1.5" stroke-linejoin="miter"/>
<path d="M421.9,646.55 V635.14 H440.65 V646.55 M440.65,646.55 V622.04 H459.4 V646.55 M459.4,646.55 V601 H478.15 V646.55 M478.15,646.55 V614.79 H496.9 V646.55 M496.9,646.55 V609.93 H515.65 V646.55 M515.65,646.55 V622.04 H534.4 V646.55 M534.4,646.55 V640 H553.15 V646.55 M553.15,646.55 V642.78 H571.9 V646.55" fill="none" stroke="#ff0000" stroke-width="1.55" stroke-linejoin="miter"/>
<g transform="translate(610.6,499.8)" fill="#bebebe"><text xml:space="preserve" transform="translate(-14.73,0) scale(1.26,1)" font-size="11.7">all</text></g>
<g transform="translate(610.6,511.5)" fill="#0000ff"><text xml:space="preserve" transform="translate(-49.68,0) scale(1.26,1)" font-size="11.7">B/T&lt;0.2</text></g>
<g transform="translate(610.6,522.6)" fill="#00ff00"><text xml:space="preserve" transform="translate(-76.42,0) scale(1.26,1)" font-size="11.7">0.2&lt;B/T&lt;0.5</text></g>
<g transform="translate(610.6,533.8)" fill="#ff0000"><text xml:space="preserve" transform="translate(-49.68,0) scale(1.26,1)" font-size="11.7">B/T&gt;0.5</text></g>
<path d="M421.9,646.55 v-4.3 M421.9,477.85 v4.3 M459.4,646.55 v-4.3 M459.4,477.85 v4.3 M496.9,646.55 v-4.3 M496.9,477.85 v4.3 M534.4,646.55 v-4.3 M534.4,477.85 v4.3 M571.9,646.55 v-4.3 M571.9,477.85 v4.3 M609.4,646.55 v-4.3 M609.4,477.85 v4.3 M403.15,646.55 v-2.3 M403.15,477.85 v2.3 M412.52,646.55 v-2.3 M412.52,477.85 v2.3 M431.27,646.55 v-2.3 M431.27,477.85 v2.3 M440.65,646.55 v-2.3 M440.65,477.85 v2.3 M450.02,646.55 v-2.3 M450.02,477.85 v2.3 M468.77,646.55 v-2.3 M468.77,477.85 v2.3 M478.15,646.55 v-2.3 M478.15,477.85 v2.3 M487.52,646.55 v-2.3 M487.52,477.85 v2.3 M506.27,646.55 v-2.3 M506.27,477.85 v2.3 M515.65,646.55 v-2.3 M515.65,477.85 v2.3 M525.02,646.55 v-2.3 M525.02,477.85 v2.3 M543.77,646.55 v-2.3 M543.77,477.85 v2.3 M553.15,646.55 v-2.3 M553.15,477.85 v2.3 M562.52,646.55 v-2.3 M562.52,477.85 v2.3 M581.27,646.55 v-2.3 M581.27,477.85 v2.3 M590.65,646.55 v-2.3 M590.65,477.85 v2.3 M600.02,646.55 v-2.3 M600.02,477.85 v2.3 M618.77,646.55 v-2.3 M618.77,477.85 v2.3 M628.15,646.55 v-2.3 M628.15,477.85 v2.3 M403.15,646.55 h4.3 M628.15,646.55 h-4.3 M403.15,596.93 h4.3 M628.15,596.93 h-4.3 M403.15,547.31 h4.3 M628.15,547.31 h-4.3 M403.15,497.7 h4.3 M628.15,497.7 h-4.3" stroke="#000" stroke-width="1.1" fill="none"/>
<rect x="403.15" y="477.85" width="225" height="168.7" fill="none" stroke="#000" stroke-width="1.5"/>
<path d="M399.65,646.55 H631.15" stroke="#000" stroke-width="1.5"/>
<g transform="translate(421.3,666.75)" fill="#000" stroke="#fff" stroke-width="0.07"><text xml:space="preserve" transform="translate(-10.59,0) scale(1.21,1)" font-size="14">0.0</text></g>
<g transform="translate(458.8,666.75)" fill="#000" stroke="#fff" stroke-width="0.07"><text xml:space="preserve" transform="translate(-10.59,0) scale(1.21,1)" font-size="14">0.2</text></g>
<g transform="translate(496.3,666.75)" fill="#000" stroke="#fff" stroke-width="0.07"><text xml:space="preserve" transform="translate(-10.59,0) scale(1.21,1)" font-size="14">0.4</text></g>
<g transform="translate(533.8,666.75)" fill="#000" stroke="#fff" stroke-width="0.07"><text xml:space="preserve" transform="translate(-10.59,0) scale(1.21,1)" font-size="14">0.6</text></g>
<g transform="translate(571.3,666.75)" fill="#000" stroke="#fff" stroke-width="0.07"><text xml:space="preserve" transform="translate(-10.59,0) scale(1.21,1)" font-size="14">0.8</text></g>
<g transform="translate(608.8,666.75)" fill="#000" stroke="#fff" stroke-width="0.07"><text xml:space="preserve" transform="translate(-10.59,0) scale(1.21,1)" font-size="14">1.0</text></g>
<g transform="translate(397.95,646.75)" fill="#000" stroke="#fff" stroke-width="0.07"><text xml:space="preserve" transform="translate(-29.64,0) scale(1.21,1)" font-size="14">0.00</text></g>
<g transform="translate(397.95,602.53)" fill="#000" stroke="#fff" stroke-width="0.07"><text xml:space="preserve" transform="translate(-29.64,0) scale(1.21,1)" font-size="14">0.05</text></g>
<g transform="translate(397.95,552.91)" fill="#000" stroke="#fff" stroke-width="0.07"><text xml:space="preserve" transform="translate(-29.64,0) scale(1.21,1)" font-size="14">0.10</text></g>
<g transform="translate(397.95,503.3)" fill="#000" stroke="#fff" stroke-width="0.07"><text xml:space="preserve" transform="translate(-29.64,0) scale(1.21,1)" font-size="14">0.15</text></g>
<path d="M517.95,678.65 C516.85,677.65 512.65,677.35 512.65,680.95 C512.65,684.55 516.85,684.25 517.95,683.25 M512.85,680.95 L517.05,680.95" fill="none" stroke="#000" stroke-width="0.95" stroke-linecap="butt"/>
<g transform="translate(356.2,562.2) rotate(-90)" fill="#000" stroke="#fff" stroke-width="0.07"><text xml:space="preserve" transform="translate(-74.83,0) scale(1.28,1)" font-size="15.2">fraction of galaxies</text></g>
<polyline points="101.1,787.5 143.2,788 189.2,783 237.4,793.5" fill="none" stroke="#0028ff" stroke-width="1.9" stroke-linejoin="round" />
<path d="M101.1,782.1 V790.2 M94.6,782.1 h13 M94.6,790.2 h13 M143.2,783.5 V790.5 M136.7,783.5 h13 M136.7,790.5 h13 M189.2,779 V786.5 M182.7,779 h13 M182.7,786.5 h13 M237.4,791.5 V795.5 M230.9,791.5 h13 M230.9,795.5 h13" stroke="#0028ff" stroke-width="1.8" fill="none"/>
<circle cx="101.1" cy="787.5" r="4.1" fill="#0028ff"/>
<circle cx="143.2" cy="788" r="4.1" fill="#0028ff"/>
<circle cx="189.2" cy="783" r="4.1" fill="#0028ff"/>
<circle cx="237.4" cy="793.5" r="4.1" fill="#0028ff"/>
<polyline points="102.3,765.8 145.7,774.3 188.6,756.2 230.5,777" fill="none" stroke="#00ff7f" stroke-width="1.9" stroke-linejoin="round" />
<path d="M102.3,759.4 V775.4 M95.8,759.4 h13 M95.8,775.4 h13 M145.7,768.6 V780 M139.2,768.6 h13 M139.2,780 h13 M188.6,751.1 V761.8 M182.1,751.1 h13 M182.1,761.8 h13 M230.5,771 V783.8 M224,771 h13 M224,783.8 h13" stroke="#00ff7f" stroke-width="1.8" fill="none"/>
<circle cx="102.3" cy="765.8" r="4.1" fill="#00ff7f"/>
<circle cx="145.7" cy="774.3" r="4.1" fill="#00ff7f"/>
<circle cx="188.6" cy="756.2" r="4.1" fill="#00ff7f"/>
<circle cx="230.5" cy="777" r="4.1" fill="#00ff7f"/>
<polyline points="116.3,760.2 140.7,779.6 177.6,752.8 210.3,795.9" fill="none" stroke="#ff0000" stroke-width="1.9" stroke-linejoin="round" />
<path d="M116.3,751 V769.5 M109.8,751 h13 M109.8,769.5 h13 M140.7,765.6 V785.1 M134.2,765.6 h13 M134.2,785.1 h13 M177.6,744.3 V760.5 M171.1,744.3 h13 M171.1,760.5 h13 M210.3,779 V805.8 M203.8,779 h13 M203.8,805.8 h13" stroke="#ff0000" stroke-width="1.8" fill="none"/>
<circle cx="116.3" cy="760.2" r="4.1" fill="#ff0000"/>
<circle cx="140.7" cy="779.6" r="4.1" fill="#ff0000"/>
<circle cx="177.6" cy="752.8" r="4.1" fill="#ff0000"/>
<circle cx="210.3" cy="795.9" r="4.1" fill="#ff0000"/>
<polyline points="102.8,772.3 143.2,773.4 187.9,765.2 235.3,792.5" fill="none" stroke="#8c8c8c" stroke-width="1.9" stroke-linejoin="round" />
<path d="M102.8,768.8 V776 M96.3,768.8 h13 M96.3,776 h13 M143.2,770 V777 M136.7,770 h13 M136.7,777 h13 M187.9,761.8 V768.6 M181.4,761.8 h13 M181.4,768.6 h13 M235.3,790.8 V794.2 M228.8,790.8 h13 M228.8,794.2 h13" stroke="#8c8c8c" stroke-width="1.8" fill="none"/>
<polygon points="102.8,767.1 108,775.9 97.6,775.9" fill="#8c8c8c"/>
<polygon points="143.2,768.2 148.4,777 138,777" fill="#8c8c8c"/>
<polygon points="187.9,760 193.1,768.8 182.7,768.8" fill="#8c8c8c"/>
<polygon points="235.3,787.3 240.5,796.1 230.1,796.1" fill="#8c8c8c"/>
<g transform="translate(97.6,814)" fill="#8c8c8c"><text xml:space="preserve" transform="translate(0,0) scale(1.27,1)" font-size="14.6">all</text></g>
<g transform="translate(97.6,827.3)" fill="#0028ff"><text xml:space="preserve" transform="translate(0,0) scale(1.27,1)" font-size="14.6">B/T&lt;0.2</text></g>
<g transform="translate(97.6,840.9)" fill="#00ff40"><text xml:space="preserve" transform="translate(0,0) scale(1.27,1)" font-size="14.6">0.2&lt;B/T&lt;0.5</text></g>
<g transform="translate(97.6,854.6)" fill="#ff0000"><text xml:space="preserve" transform="translate(0,0) scale(1.27,1)" font-size="14.6">B/T&gt;0.5</text></g>
<path d="M76.2,875.4 v-4.3 M76.2,706.7 v4.3 M121.2,875.4 v-4.3 M121.2,706.7 v4.3 M166.2,875.4 v-4.3 M166.2,706.7 v4.3 M211.2,875.4 v-4.3 M211.2,706.7 v4.3 M256.2,875.4 v-4.3 M256.2,706.7 v4.3 M301.2,875.4 v-4.3 M301.2,706.7 v4.3 M87.45,875.4 v-2.3 M87.45,706.7 v2.3 M98.7,875.4 v-2.3 M98.7,706.7 v2.3 M109.95,875.4 v-2.3 M109.95,706.7 v2.3 M132.45,875.4 v-2.3 M132.45,706.7 v2.3 M143.7,875.4 v-2.3 M143.7,706.7 v2.3 M154.95,875.4 v-2.3 M154.95,706.7 v2.3 M177.45,875.4 v-2.3 M177.45,706.7 v2.3 M188.7,875.4 v-2.3 M188.7,706.7 v2.3 M199.95,875.4 v-2.3 M199.95,706.7 v2.3 M222.45,875.4 v-2.3 M222.45,706.7 v2.3 M233.7,875.4 v-2.3 M233.7,706.7 v2.3 M244.95,875.4 v-2.3 M244.95,706.7 v2.3 M267.45,875.4 v-2.3 M267.45,706.7 v2.3 M278.7,875.4 v-2.3 M278.7,706.7 v2.3 M289.95,875.4 v-2.3 M289.95,706.7 v2.3 M76.2,875.4 h4.3 M301.2,875.4 h-4.3 M76.2,838.73 h4.3 M301.2,838.73 h-4.3 M76.2,802.05 h4.3 M301.2,802.05 h-4.3 M76.2,765.38 h4.3 M301.2,765.38 h-4.3 M76.2,728.7 h4.3 M301.2,728.7 h-4.3 M76.2,868.07 h2.3 M301.2,868.07 h-2.3 M76.2,860.73 h2.3 M301.2,860.73 h-2.3 M76.2,853.4 h2.3 M301.2,853.4 h-2.3 M76.2,846.06 h2.3 M301.2,846.06 h-2.3 M76.2,831.39 h2.3 M301.2,831.39 h-2.3 M76.2,824.06 h2.3 M301.2,824.06 h-2.3 M76.2,816.72 h2.3 M301.2,816.72 h-2.3 M76.2,809.39 h2.3 M301.2,809.39 h-2.3 M76.2,794.72 h2.3 M301.2,794.72 h-2.3 M76.2,787.38 h2.3 M301.2,787.38 h-2.3 M76.2,780.05 h2.3 M301.2,780.05 h-2.3 M76.2,772.71 h2.3 M301.2,772.71 h-2.3 M76.2,758.04 h2.3 M301.2,758.04 h-2.3 M76.2,750.71 h2.3 M301.2,750.71 h-2.3 M76.2,743.37 h2.3 M301.2,743.37 h-2.3 M76.2,736.04 h2.3 M301.2,736.04 h-2.3 M76.2,721.37 h2.3 M301.2,721.37 h-2.3 M76.2,714.03 h2.3 M301.2,714.03 h-2.3 M76.2,706.7 h2.3 M301.2,706.7 h-2.3" stroke="#000" stroke-width="1.1" fill="none"/>
<rect x="76.2" y="706.7" width="225" height="168.7" fill="none" stroke="#000" stroke-width="1.5"/>
<g transform="translate(75.6,895.6)" fill="#000" stroke="#fff" stroke-width="0.07"><text xml:space="preserve" transform="translate(-10.59,0) scale(1.21,1)" font-size="14">0.0</text></g>
<g transform="translate(120.6,895.6)" fill="#000" stroke="#fff" stroke-width="0.07"><text xml:space="preserve" transform="translate(-10.59,0) scale(1.21,1)" font-size="14">0.2</text></g>
<g transform="translate(165.6,895.6)" fill="#000" stroke="#fff" stroke-width="0.07"><text xml:space="preserve" transform="translate(-10.59,0) scale(1.21,1)" font-size="14">0.4</text></g>
<g transform="translate(210.6,895.6)" fill="#000" stroke="#fff" stroke-width="0.07"><text xml:space="preserve" transform="translate(-10.59,0) scale(1.21,1)" font-size="14">0.6</text></g>
<g transform="translate(255.6,895.6)" fill="#000" stroke="#fff" stroke-width="0.07"><text xml:space="preserve" transform="translate(-10.59,0) scale(1.21,1)" font-size="14">0.8</text></g>
<g transform="translate(300.6,895.6)" fill="#000" stroke="#fff" stroke-width="0.07"><text xml:space="preserve" transform="translate(-10.59,0) scale(1.21,1)" font-size="14">1.0</text></g>
<g transform="translate(71,875.6)" fill="#000" stroke="#fff" stroke-width="0.07"><text xml:space="preserve" transform="translate(-39.2,0) scale(1.21,1)" font-size="14">−0.10</text></g>
<g transform="translate(71,844.33)" fill="#000" stroke="#fff" stroke-width="0.07"><text xml:space="preserve" transform="translate(-39.2,0) scale(1.21,1)" font-size="14">−0.05</text></g>
<g transform="translate(71,807.65)" fill="#000" stroke="#fff" stroke-width="0.07"><text xml:space="preserve" transform="translate(-29.64,0) scale(1.21,1)" font-size="14">0.00</text></g>
<g transform="translate(71,770.98)" fill="#000" stroke="#fff" stroke-width="0.07"><text xml:space="preserve" transform="translate(-29.64,0) scale(1.21,1)" font-size="14">0.05</text></g>
<g transform="translate(71,734.3)" fill="#000" stroke="#fff" stroke-width="0.07"><text xml:space="preserve" transform="translate(-29.64,0) scale(1.21,1)" font-size="14">0.10</text></g>
<path d="M191,907.5 C189.9,906.5 185.7,906.2 185.7,909.8 C185.7,913.4 189.9,913.1 191,912.1 M185.9,909.8 L190.1,909.8" fill="none" stroke="#000" stroke-width="0.95" stroke-linecap="butt"/>
<g transform="translate(16.5,792.55) rotate(-90)" fill="#000" stroke="#fff" stroke-width="0.07"><text xml:space="preserve" transform="translate(-53.41,0) scale(1.17,1)" font-size="15.2">B/T(I)−B/T(B)</text></g>
</svg>
</body></html>
